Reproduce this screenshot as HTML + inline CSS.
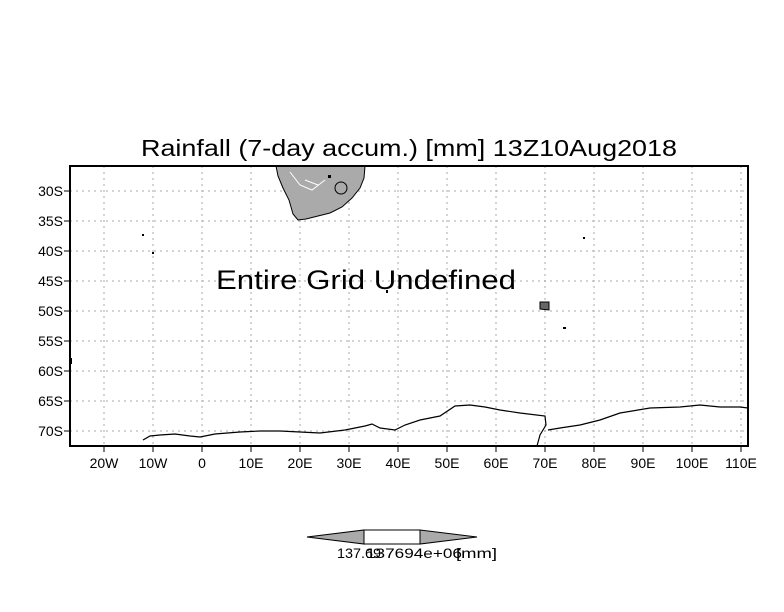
<!DOCTYPE html>
<html><head><style>body{margin:0;background:#fff}svg{display:block}</style></head><body>
<svg width="784" height="612" xmlns="http://www.w3.org/2000/svg" font-family="Liberation Sans, sans-serif">
<rect width="784" height="612" fill="#fff"/>
<text x="141" y="156" font-size="23" textLength="536" lengthAdjust="spacingAndGlyphs" fill="#000">Rainfall (7-day accum.) [mm] 13Z10Aug2018</text>
<g stroke="#aaa" stroke-width="1" stroke-dasharray="2,4">
<line x1="70" y1="191" x2="748" y2="191"/><line x1="70" y1="221" x2="748" y2="221"/><line x1="70" y1="251" x2="748" y2="251"/><line x1="70" y1="281" x2="748" y2="281"/><line x1="70" y1="311" x2="748" y2="311"/><line x1="70" y1="341" x2="748" y2="341"/><line x1="70" y1="371" x2="748" y2="371"/><line x1="70" y1="401" x2="748" y2="401"/><line x1="70" y1="431" x2="748" y2="431"/>
<line x1="104" y1="166" x2="104" y2="446"/><line x1="153" y1="166" x2="153" y2="446"/><line x1="202" y1="166" x2="202" y2="446"/><line x1="251" y1="166" x2="251" y2="446"/><line x1="300" y1="166" x2="300" y2="446"/><line x1="349" y1="166" x2="349" y2="446"/><line x1="398" y1="166" x2="398" y2="446"/><line x1="447" y1="166" x2="447" y2="446"/><line x1="496" y1="166" x2="496" y2="446"/><line x1="545" y1="166" x2="545" y2="446"/><line x1="594" y1="166" x2="594" y2="446"/><line x1="643" y1="166" x2="643" y2="446"/><line x1="692" y1="166" x2="692" y2="446"/><line x1="741" y1="166" x2="741" y2="446"/>
</g>
<path d="M276,166 L365,166 L364,178 L360,188 L352,198 L342,207 L330,213 L318,216 L306,219 L298,220 L293,214 L289,200 L283,188 L278,176 Z" fill="#aaa" stroke="#000" stroke-width="1"/>
<path d="M335,188 a6,6 0 1 0 12,0 a6,6 0 1 0 -12,0" fill="#aaa" stroke="#000"/>
<path d="M290,172 L300,185 L312,190 L325,180 M305,180 L318,185" fill="none" stroke="#fff" stroke-width="1"/>
<rect x="328" y="175" width="3" height="3" fill="#000"/>
<path d="M143,440 L150,436 L160,435 L175,434 L190,436 L200,437 L215,434 L240,432 L260,431 L280,431 L300,432 L320,433 L345,430 L365,426 L372,424 L380,428 L395,430 L405,425 L420,420 L440,416 L455,406 L470,405 L485,407 L500,410 L520,413 L545,416 L546,425 L540,435 L537,446 M548,430 L560,428 L580,425 L600,420 L620,413 L650,408 L680,407 L700,405 L720,407 L740,407 L748,408" fill="none" stroke="#000" stroke-width="1.2"/>
<path d="M540,302 L549,302 L549,310 L540,309 Z" fill="#666" stroke="#000"/>
<rect x="142" y="234" width="2" height="2" fill="#000"/><rect x="152" y="252" width="2" height="2" fill="#000"/><rect x="386" y="290" width="2" height="3" fill="#000"/><rect x="583" y="237" width="2" height="2" fill="#000"/><rect x="563" y="327" width="3" height="2" fill="#000"/><rect x="70" y="358" width="2" height="6" fill="#000"/>
<text x="216" y="289" font-size="27" textLength="300" lengthAdjust="spacingAndGlyphs" fill="#000">Entire Grid Undefined</text>
<rect x="70" y="166" width="678" height="280" fill="none" stroke="#000" stroke-width="2"/>
<g stroke="#000" stroke-width="1">
<line x1="64" y1="191" x2="70" y2="191"/><line x1="64" y1="221" x2="70" y2="221"/><line x1="64" y1="251" x2="70" y2="251"/><line x1="64" y1="281" x2="70" y2="281"/><line x1="64" y1="311" x2="70" y2="311"/><line x1="64" y1="341" x2="70" y2="341"/><line x1="64" y1="371" x2="70" y2="371"/><line x1="64" y1="401" x2="70" y2="401"/><line x1="64" y1="431" x2="70" y2="431"/>
<line x1="104" y1="446" x2="104" y2="452"/><line x1="153" y1="446" x2="153" y2="452"/><line x1="202" y1="446" x2="202" y2="452"/><line x1="251" y1="446" x2="251" y2="452"/><line x1="300" y1="446" x2="300" y2="452"/><line x1="349" y1="446" x2="349" y2="452"/><line x1="398" y1="446" x2="398" y2="452"/><line x1="447" y1="446" x2="447" y2="452"/><line x1="496" y1="446" x2="496" y2="452"/><line x1="545" y1="446" x2="545" y2="452"/><line x1="594" y1="446" x2="594" y2="452"/><line x1="643" y1="446" x2="643" y2="452"/><line x1="692" y1="446" x2="692" y2="452"/><line x1="741" y1="446" x2="741" y2="452"/>
</g>
<g font-size="14" fill="#000" text-anchor="end">
<text x="63" y="196">30S</text><text x="63" y="226">35S</text><text x="63" y="256">40S</text><text x="63" y="286">45S</text><text x="63" y="316">50S</text><text x="63" y="346">55S</text><text x="63" y="376">60S</text><text x="63" y="406">65S</text><text x="63" y="436">70S</text>
</g>
<g font-size="14" fill="#000" text-anchor="middle">
<text x="104" y="468">20W</text><text x="153" y="468">10W</text><text x="202" y="468">0</text><text x="251" y="468">10E</text><text x="300" y="468">20E</text><text x="349" y="468">30E</text><text x="398" y="468">40E</text><text x="447" y="468">50E</text><text x="496" y="468">60E</text><text x="545" y="468">70E</text><text x="594" y="468">80E</text><text x="643" y="468">90E</text><text x="692" y="468">100E</text><text x="741" y="468">110E</text>
</g>
<path d="M307,537 L364,530 L364,544 Z" fill="#aaa" stroke="#000"/>
<rect x="364" y="530" width="56" height="14" fill="#fff" stroke="#000"/>
<path d="M420,530 L477,537 L420,544 Z" fill="#aaa" stroke="#000"/>
<text x="337" y="558" font-size="14" textLength="44" lengthAdjust="spacingAndGlyphs" fill="#000">137.69</text>
<text x="366" y="558" font-size="14" textLength="96" lengthAdjust="spacingAndGlyphs" fill="#000">137694e+06</text>
<text x="456" y="558" font-size="14" textLength="41" lengthAdjust="spacingAndGlyphs" fill="#000">[mm]</text>
</svg>
</body></html>
